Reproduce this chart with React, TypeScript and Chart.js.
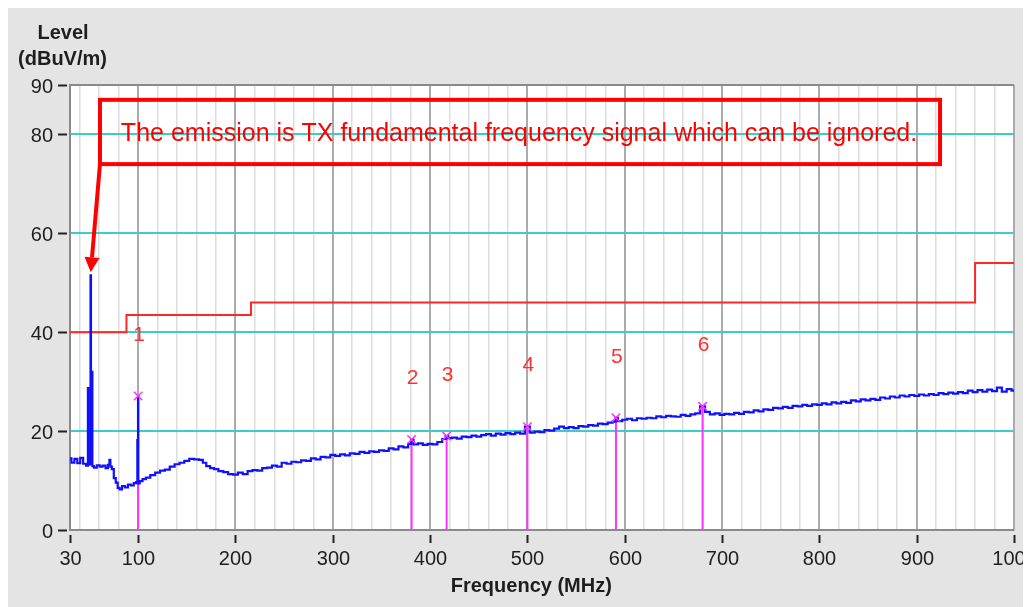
import React, { useEffect, useRef } from "react";
import { Chart, registerables } from "chart.js";

Chart.register(...registerables);

// ---------- data ----------
const traceFreq = [
  30, 33, 36, 39, 42, 45, 48, 48.8, 49.3, 50.9, 51.3, 51.8, 52.1, 52.8, 53.2,
  56, 59, 62, 65, 68, 70, 71, 72, 74, 76, 78, 80, 82, 85, 88, 91, 94, 97, 99,
  99.4, 99.8, 100, 100.3, 103, 106, 110, 115, 120, 125, 130, 135, 140, 145,
  150, 155, 160, 165, 168, 172, 176, 180, 185, 190, 195,
  200, 205, 210, 215, 220, 225, 230, 235, 240, 245, 250, 255, 260, 265, 270,
  275, 280, 285, 290, 295, 300, 305, 310, 315, 320, 325, 330, 335, 340, 345,
  350, 355, 360, 365, 370, 375, 380, 381, 385, 390, 395, 400, 405, 410, 415,
  417, 420, 425, 430, 435, 440, 445, 450, 455, 460, 465, 470, 475, 480, 485,
  490, 495, 500, 505, 510, 515, 520, 525, 530, 535, 540, 545, 550, 555, 560,
  565, 570, 575, 580, 585, 590, 591, 595, 600, 605, 610, 615, 620, 625, 630,
  635, 640, 645, 650, 655, 660, 665, 670, 675, 680, 685, 690, 695, 700, 705,
  710, 715, 720, 725, 730, 735, 740, 745, 750, 755, 760, 765, 770, 775, 780,
  785, 790, 795, 800, 805, 810, 815, 820, 825, 830, 835, 840, 845, 850, 855,
  860, 865, 870, 875, 880, 885, 890, 895, 900, 905, 910, 915, 920, 925, 930,
  935, 940, 945, 950, 955, 960, 965, 970, 975, 980, 985, 990, 995, 1000,
];
const traceLevel = [
  14.5, 13.6, 14.4, 13.5, 14.6, 13.4, 13.0, 28.7, 13.2, 13.3, 51.5, 28.0, 32.0, 32.0, 12.9,
  12.6, 13.1, 12.8, 13.0, 12.5, 13.2, 14.2, 12.8, 12.3, 10.5, 9.6, 8.5, 8.2, 8.9, 8.6, 9.2, 9.0, 9.5, 9.7,
  18.2, 18.0, 27.1, 9.4, 9.9, 10.3, 10.6, 11.1, 11.6, 12.0, 12.2, 12.8, 13.3, 13.6,
  14.0, 14.4, 14.3, 14.2, 13.6, 12.9, 12.5, 12.3, 11.9, 11.7, 11.3,
  11.2, 11.6, 11.3, 11.9, 12.1, 12.0, 12.5, 12.6, 13.0, 12.8, 13.6, 13.4, 13.8, 13.7, 14.1,
  14.0, 14.5, 14.3, 14.8, 14.7, 15.2, 15.0, 15.3, 15.1, 15.5, 15.4, 15.8, 15.6, 15.9, 15.8,
  16.1, 16.0, 16.5, 16.3, 16.9, 16.7, 17.4, 18.3, 17.3, 17.5, 17.2, 17.4, 17.3, 17.8, 18.4,
  19.0, 18.6, 18.7, 18.5, 18.9, 18.8, 19.1, 18.9, 19.2, 19.4, 19.1, 19.5, 19.3, 19.6, 19.4,
  19.7, 19.5, 20.9, 19.7, 19.9, 19.8, 20.2, 20.1, 20.5, 20.9, 20.6, 20.8, 20.6, 21.0, 20.9,
  21.2, 21.1, 21.5, 21.4, 21.7, 21.9, 22.7, 22.0, 22.3, 22.5, 22.2, 22.6, 22.5, 22.7, 22.6,
  23.0, 22.8, 23.1, 23.0, 22.9, 23.3, 23.1, 23.4, 23.6, 25.0, 23.9, 23.4, 23.6, 23.3, 23.5,
  23.4, 23.7, 23.5, 23.9, 23.8, 24.2, 24.0, 24.4, 24.3, 24.7, 24.6, 24.9, 24.7, 25.1, 25.0,
  25.3, 25.1, 25.4, 25.3, 25.6, 25.4, 25.8, 25.6, 25.9, 25.7, 26.2, 26.0, 26.4, 26.2, 26.5,
  26.3, 26.8, 26.6, 27.0, 26.8, 27.2, 27.0, 27.3, 27.1, 27.4, 27.2, 27.5, 27.3, 27.7, 27.5,
  27.8, 27.6, 27.9, 27.7, 28.2, 27.9, 28.3, 28.0, 28.4, 28.1, 28.8, 28.0, 28.5, 28.2,
];

const limitFreq = [30, 88, 88, 216, 216, 960, 960, 1000];
const limitLevel = [40, 40, 43.5, 43.5, 46, 46, 54, 54];

const markerFreq = [100, 381, 417, 500, 591, 680];
const markerLevel = [27.1, 18.3, 19.0, 20.9, 22.7, 25.0];
const markerLabels = ["1", "2", "3", "4", "5", "6"];

const xLabelValues = [30, 100, 200, 300, 400, 500, 600, 700, 800, 900, 1000];
const yLabelValues = [0, 20, 40, 60, 80, 90];
const yGridValues = [20, 40, 60, 80];

const yTitleLines = ["Level", "(dBuV/m)"];
const xTitle = "Frequency (MHz)";
const noteText = "The emission is TX fundamental frequency signal which can be ignored.";
// spike the note refers to
const noteTargetFreq = 51.3;
const noteTargetLevel = 51.5;

// ---------- styling ----------
const FONT = "'Liberation Sans', Arial, sans-serif";
const BG = "#e4e4e4";
const MAJOR_GRID = "#ababab";
const MINOR_GRID = "#dcdcdc";
const CYAN = "#3ccccc";
const BLUE = "#1010ff";
const MAGENTA = "#ff33ff";
const RED = "#ff0000";
const TEXT = "#1e1e1e";

const xGridTicks: number[] = [30];
for (let v = 40; v <= 1000; v += 20) xGridTicks.push(v);

const overlayPlugin = {
  id: "overlay",
  beforeDraw(chart: any) {
    const { ctx, chartArea } = chart;
    ctx.save();
    ctx.fillStyle = BG;
    ctx.fillRect(0, 0, chart.width, chart.height);
    ctx.fillStyle = "#ffffff";
    ctx.fillRect(chartArea.left, chartArea.top, chartArea.right - chartArea.left, chartArea.bottom - chartArea.top);
    ctx.restore();
  },
  afterDraw(chart: any) {
    const { ctx, chartArea } = chart;
    const xs = chart.scales.x;
    const ys = chart.scales.y;
    ctx.save();

    // top border
    ctx.strokeStyle = "#8a8a8a";
    ctx.lineWidth = 2;
    ctx.beginPath();
    ctx.moveTo(chartArea.left, chartArea.top);
    ctx.lineTo(chartArea.right, chartArea.top);
    ctx.stroke();

    // tick marks and labels
    ctx.strokeStyle = "#222";
    ctx.lineWidth = 2;
    ctx.fillStyle = TEXT;
    ctx.font = `20px ${FONT}`;
    ctx.textAlign = "center";
    ctx.textBaseline = "alphabetic";
    for (const v of xLabelValues) {
      const px = Math.round(xs.getPixelForValue(v)) + 0.5;
      ctx.beginPath();
      ctx.moveTo(px, chartArea.bottom + 5);
      ctx.lineTo(px, chartArea.bottom + 13);
      ctx.stroke();
      ctx.fillText(String(v), px, chartArea.bottom + 35);
    }
    ctx.textAlign = "right";
    for (const v of yLabelValues) {
      const py = Math.round(ys.getPixelForValue(v)) + 0.5;
      ctx.beginPath();
      ctx.moveTo(chartArea.left - 12, py);
      ctx.lineTo(chartArea.left - 3, py);
      ctx.stroke();
      ctx.fillText(String(v), chartArea.left - 17, py + 7);
    }

    // axis titles
    ctx.font = `bold 20px ${FONT}`;
    ctx.textAlign = "center";
    ctx.fillText(yTitleLines[0], 55, 31);
    ctx.fillText(yTitleLines[1], 54.5, 57);
    ctx.fillText(xTitle, xs.getPixelForValue(504), chartArea.bottom + 62);

    // marker numbers
    ctx.fillStyle = "#ff3030";
    ctx.font = `21px ${FONT}`;
    ctx.textBaseline = "middle";
    markerFreq.forEach((f, i) => {
      const px = xs.getPixelForValue(f) + 1;
      const py = ys.getPixelForValue(markerLevel[i]) - 61;
      ctx.fillText(markerLabels[i], px, py);
    });

    // annotation box
    const bl = xs.getPixelForValue(60.8);
    const br = xs.getPixelForValue(924);
    const bt = ys.getPixelForValue(87.0);
    const bb = ys.getPixelForValue(74.0);
    ctx.strokeStyle = RED;
    ctx.lineWidth = 4;
    ctx.strokeRect(bl, bt, br - bl, bb - bt);
    ctx.fillStyle = RED;
    ctx.font = `25px ${FONT}`;
    ctx.textAlign = "center";
    ctx.textBaseline = "alphabetic";
    ctx.fillText(noteText, (bl + br) / 2 - 1, bt + 41.5);

    // arrow
    const sx = bl;
    const sy = bb;
    const tx = xs.getPixelForValue(noteTargetFreq);
    const ty = ys.getPixelForValue(noteTargetLevel) - 3;
    const ang = Math.atan2(ty - sy, tx - sx);
    const headLen = 15;
    const headHalf = 7.5;
    const bx = tx - headLen * Math.cos(ang);
    const by = ty - headLen * Math.sin(ang);
    ctx.lineWidth = 4;
    ctx.beginPath();
    ctx.moveTo(sx, sy);
    ctx.lineTo(bx, by);
    ctx.stroke();
    ctx.beginPath();
    ctx.moveTo(tx, ty);
    ctx.lineTo(bx + headHalf * Math.sin(ang), by - headHalf * Math.cos(ang));
    ctx.lineTo(bx - headHalf * Math.sin(ang), by + headHalf * Math.cos(ang));
    ctx.closePath();
    ctx.fill();

    ctx.restore();
  },
};

export default function App() {
  const canvasRef = useRef<HTMLCanvasElement | null>(null);

  useEffect(() => {
    document.documentElement.style.overflow = "hidden";
    document.body.style.overflow = "hidden";
    const canvas = canvasRef.current;
    if (!canvas) return;

    const traceData = traceFreq.map((f, i) => ({ x: f, y: traceLevel[i] }));
    const limitData = limitFreq.map((f, i) => ({ x: f, y: limitLevel[i] }));
    const markerData = markerFreq.map((f, i) => ({ x: f, y: markerLevel[i] }));
    const stemData: any[] = [];
    markerFreq.forEach((f, i) => {
      stemData.push({ x: f, y: 0 }, { x: f, y: markerLevel[i] }, { x: f, y: null });
    });

    const chart = new Chart(canvas, {
      type: "line",
      data: {
        datasets: [
          {
            label: "markers",
            data: markerData,
            showLine: false,
            pointStyle: "crossRot",
            pointRadius: 6,
            pointBorderWidth: 1.5,
            pointBorderColor: MAGENTA,
            pointBackgroundColor: MAGENTA,
          } as any,
          {
            label: "trace",
            data: traceData,
            borderColor: BLUE,
            borderWidth: 2.2,
            pointRadius: 0,
            stepped: "middle",
          },
          {
            label: "stems",
            data: stemData,
            borderColor: MAGENTA,
            borderWidth: 2,
            pointRadius: 0,
            spanGaps: false,
          },
          {
            label: "limit",
            data: limitData,
            borderColor: "#ff2828",
            borderWidth: 2,
            pointRadius: 0,
          },
        ],
      },
      options: {
        animation: false,
        responsive: true,
        maintainAspectRatio: false,
        events: [],
        layout: { padding: { top: 77, right: 17, left: 0, bottom: 0 } },
        plugins: {
          legend: { display: false },
          tooltip: { enabled: false },
          title: { display: false },
        },
        scales: {
          x: {
            type: "linear",
            min: 30,
            max: 1000,
            afterBuildTicks: (s: any) => {
              s.ticks = xGridTicks.map((v) => ({ value: v }));
            },
            afterFit: (s: any) => {
              s.height = 77;
              s.paddingLeft = 0;
              s.paddingRight = 0;
            },
            ticks: { display: false },
            grid: {
              drawTicks: false,
              color: (c: any) => {
                const v = c.tick ? c.tick.value : 0;
                if (v === 30) return "rgba(0,0,0,0)";
                return v % 100 === 0 ? MAJOR_GRID : MINOR_GRID;
              },
              lineWidth: (c: any) => {
                const v = c.tick ? c.tick.value : 0;
                return v % 100 === 0 ? 2 : 1.5;
              },
            },
            border: { display: true, color: "#8a8a8a", width: 2 },
          },
          y: {
            type: "linear",
            min: 0,
            max: 90,
            afterBuildTicks: (s: any) => {
              s.ticks = yLabelValues.map((v) => ({ value: v }));
            },
            afterFit: (s: any) => {
              s.width = 62;
              s.paddingTop = 0;
              s.paddingBottom = 0;
            },
            ticks: { display: false },
            grid: {
              drawTicks: false,
              color: (c: any) => {
                const v = c.tick ? c.tick.value : 0;
                return yGridValues.includes(v) ? CYAN : "rgba(0,0,0,0)";
              },
              lineWidth: 2,
            },
            border: { display: true, color: "#8a8a8a", width: 2 },
          },
        },
      },
      plugins: [overlayPlugin],
    });

    return () => chart.destroy();
  }, []);

  return (
    <div style={{ width: 1023, height: 599, background: BG, position: "relative" }}>
      <canvas ref={canvasRef} />
    </div>
  );
}
